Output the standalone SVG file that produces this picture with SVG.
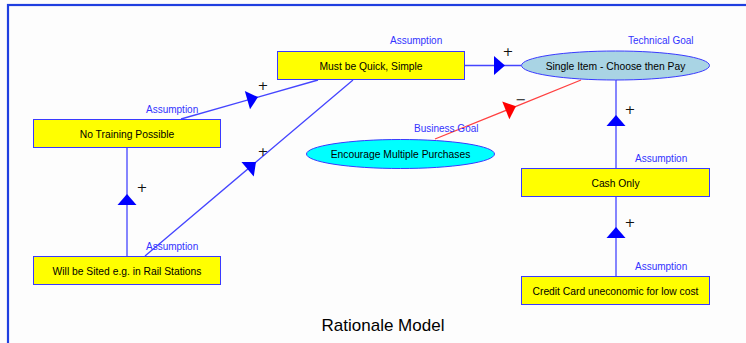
<svg xmlns="http://www.w3.org/2000/svg" width="746" height="343" viewBox="0 0 746 343">
  <style>
    .box { fill: #ffff00; stroke: #3a3aff; stroke-width: 1; }
    .goal-tech { fill: #a9d4e4; stroke: #3a3aff; stroke-width: 1; }
    .goal-biz { fill: #00ffff; stroke: #3a3aff; stroke-width: 1; }
    .txt { font-family: "Liberation Sans", Arial, sans-serif; font-size: 10.3px; fill: #000; text-anchor: middle; }
    .kind { font-family: "Liberation Sans", Arial, sans-serif; font-size: 10px; fill: #3333ff; }
    .sign { font-family: "DejaVu Sans", sans-serif; font-size: 13px; fill: #111; text-anchor: middle; }
    .link { fill: none; stroke: #4545ff; stroke-width: 1.3; marker-mid: url(#tri-blue); }
    .link.neg { stroke: #ff4040; marker-mid: url(#tri-red); }
    .title { font-family: "Liberation Sans", Arial, sans-serif; font-size: 17px; fill: #000; text-anchor: middle; }
  </style>
  <defs>
    <marker id="tri-blue" markerUnits="userSpaceOnUse" orient="auto" refX="0" refY="0" markerWidth="14" markerHeight="20" viewBox="-12 -10 14 20" overflow="visible">
      <path d="M-11,-9.5 L0,0 L-11,9.5 z" fill="#0000ff"/>
    </marker>
    <marker id="tri-red" markerUnits="userSpaceOnUse" orient="auto" refX="0" refY="0" markerWidth="14" markerHeight="20" viewBox="-12 -10 14 20" overflow="visible">
      <path d="M-11,-9.5 L0,0 L-11,9.5 z" fill="#ff0000"/>
    </marker>
  </defs>

  <rect x="0" y="0" width="746" height="343" fill="#fdfdfd"/>
  <!-- frame -->
  <rect x="8" y="5" width="800" height="400" fill="none" stroke="#1f3fe0" stroke-width="2.2"/>

  <g id="connectors">
    <path class="link" d="M181,119 L258,97.1 L318,80"/>
    <path class="link" d="M145,256 L256,162.1 L353,80"/>
    <path class="link" d="M127,256 L127,194 L127,148"/>
    <path class="link" d="M465,65.5 L505,65.5 L521,65.5"/>
    <path class="link neg" d="M435,139 L516,106.3 L581,80"/>
    <path class="link" d="M616,168 L616,115 L616,80"/>
    <path class="link" d="M616,276 L616,227 L616,197"/>
    <text class="sign" x="263" y="89.5">+</text>
    <text class="sign" x="263" y="156">+</text>
    <text class="sign" x="142" y="192">+</text>
    <text class="sign" x="508" y="56">+</text>
    <text class="sign" x="521" y="104">−</text>
    <text class="sign" x="630" y="114">+</text>
    <text class="sign" x="630" y="227">+</text>
  </g>

  <g id="must-be-quick">
    <rect class="box" x="277.5" y="51.5" width="187" height="28"/>
    <text class="txt" x="371" y="69.5">Must be Quick, Simple</text>
    <text class="kind" x="390" y="44">Assumption</text>
  </g>

  <g id="no-training">
    <rect class="box" x="33.5" y="119.5" width="187" height="28"/>
    <text class="txt" x="127" y="137.5">No Training Possible</text>
    <text class="kind" x="146" y="113">Assumption</text>
  </g>

  <g id="will-be-sited">
    <rect class="box" x="33.5" y="256.5" width="187" height="28"/>
    <text class="txt" x="127" y="274.5">Will be Sited e.g. in Rail Stations</text>
    <text class="kind" x="146" y="250">Assumption</text>
  </g>

  <g id="single-item">
    <ellipse class="goal-tech" cx="615.5" cy="65.5" rx="94" ry="14.5"/>
    <text class="txt" x="615.5" y="69.5">Single Item - Choose then Pay</text>
    <text class="kind" x="628" y="44">Technical Goal</text>
  </g>

  <g id="encourage-multiple">
    <ellipse class="goal-biz" cx="400.5" cy="154" rx="94" ry="14.5"/>
    <text class="txt" x="400.5" y="158">Encourage Multiple Purchases</text>
    <text class="kind" x="414" y="132">Business Goal</text>
  </g>

  <g id="cash-only">
    <rect class="box" x="521.5" y="168.5" width="188" height="28"/>
    <text class="txt" x="615.5" y="186.5">Cash Only</text>
    <text class="kind" x="635" y="162">Assumption</text>
  </g>

  <g id="credit-card">
    <rect class="box" x="521.5" y="276.5" width="188" height="28"/>
    <text class="txt" x="615.5" y="294.5">Credit Card uneconomic for low cost</text>
    <text class="kind" x="635" y="270">Assumption</text>
  </g>

  <text class="title" x="383" y="331">Rationale Model</text>
</svg>
